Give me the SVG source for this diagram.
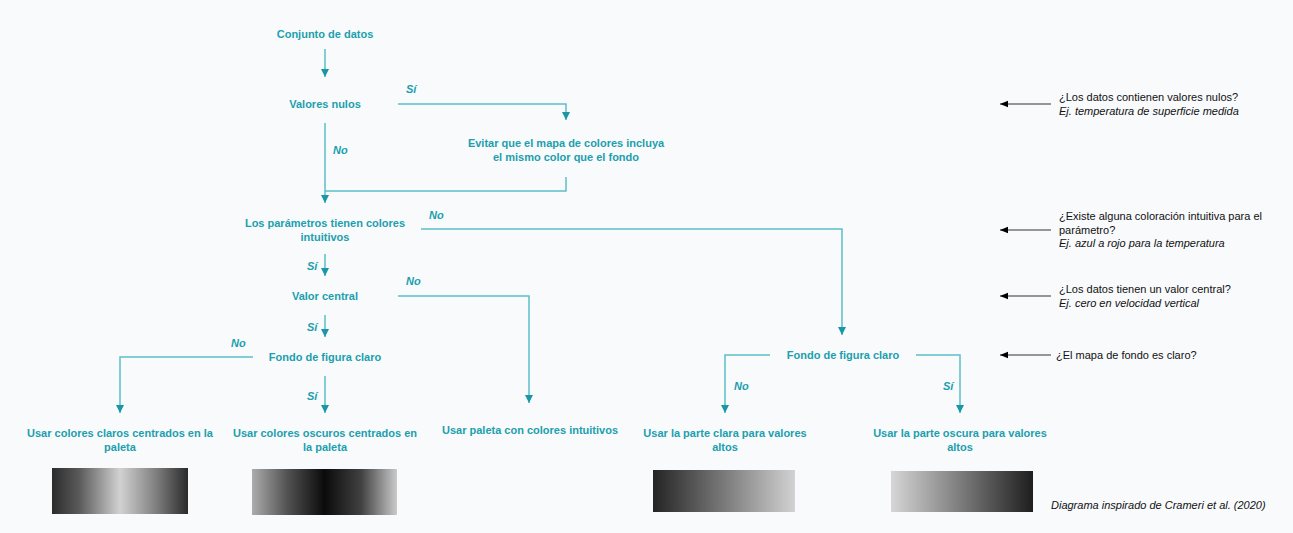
<svg xmlns="http://www.w3.org/2000/svg" width="1293" height="533" viewBox="0 0 1293 533">
<style>
.n{font-family:"Liberation Sans",Arial,sans-serif;font-size:11px;font-weight:bold;fill:#1c9fae;text-anchor:middle}
.l{font-family:"Liberation Sans",Arial,sans-serif;font-size:11px;font-weight:bold;font-style:italic;fill:#1c9fae}
.a{font-family:"Liberation Sans",Arial,sans-serif;font-size:11px;fill:#111}
.ai{font-family:"Liberation Sans",Arial,sans-serif;font-size:11px;font-style:italic;fill:#111}
.c{fill:none;stroke:#5cbfc9;stroke-width:1.5}
.k{fill:none;stroke:#333;stroke-width:1.2}
</style>
<defs>
<marker id="ah" viewBox="0 0 10 10" refX="10" refY="5" markerWidth="8" markerHeight="8" markerUnits="userSpaceOnUse" orient="auto"><path d="M0,0 L10,5 L0,10 z" fill="#1a97a5"/></marker>
<marker id="bh" viewBox="0 0 10 10" refX="10" refY="5" markerWidth="8" markerHeight="8" markerUnits="userSpaceOnUse" orient="auto"><path d="M0,1 L10,5 L0,9 z" fill="#000"/></marker>
<linearGradient id="g1"><stop offset="0" stop-color="#2c2c2c"/><stop offset="0.2" stop-color="#5a5a5a"/><stop offset="0.5" stop-color="#d2d2d2"/><stop offset="0.78" stop-color="#7a7a7a"/><stop offset="1" stop-color="#2a2a2a"/></linearGradient>
<linearGradient id="g2"><stop offset="0" stop-color="#acacac"/><stop offset="0.25" stop-color="#505050"/><stop offset="0.5" stop-color="#0b0b0b"/><stop offset="0.75" stop-color="#404040"/><stop offset="1" stop-color="#cacaca"/></linearGradient>
<linearGradient id="g3"><stop offset="0" stop-color="#242424"/><stop offset="0.5" stop-color="#7a7a7a"/><stop offset="1" stop-color="#d2d2d2"/></linearGradient>
<linearGradient id="g4"><stop offset="0" stop-color="#d6d6d6"/><stop offset="0.5" stop-color="#7a7a7a"/><stop offset="1" stop-color="#1e1e1e"/></linearGradient>
</defs>
<rect width="1293" height="533" fill="#f8fafc"/>

<g id="connectors">
<path class="c" d="M325,49 V77" marker-end="url(#ah)"/>
<path class="c" d="M398,104 H566 V120" marker-end="url(#ah)"/>
<path class="c" d="M566,177 V191 H325"/>
<path class="c" d="M325,123 V203" marker-end="url(#ah)"/>
<path class="c" d="M421,229 H842 V335" marker-end="url(#ah)"/>
<path class="c" d="M325,254 V276" marker-end="url(#ah)"/>
<path class="c" d="M398,296 H529 V403" marker-end="url(#ah)"/>
<path class="c" d="M325,315 V337" marker-end="url(#ah)"/>
<path class="c" d="M253,357 H120 V413" marker-end="url(#ah)"/>
<path class="c" d="M325,376 V413" marker-end="url(#ah)"/>
<path class="c" d="M770,355 H725 V413" marker-end="url(#ah)"/>
<path class="c" d="M916,355 H960 V413" marker-end="url(#ah)"/>
<text class="l" x="406" y="93">Sí</text>
<text class="l" x="333" y="154">No</text>
<text class="l" x="429" y="219">No</text>
<text class="l" x="307" y="270">Sí</text>
<text class="l" x="406" y="285">No</text>
<text class="l" x="307" y="331">Sí</text>
<text class="l" x="231" y="347">No</text>
<text class="l" x="307" y="400">Sí</text>
<text class="l" x="734" y="390">No</text>
<text class="l" x="943" y="390">Sí</text>
<path class="k" d="M1051,104 H1000" marker-end="url(#bh)"/>
<path class="k" d="M1051,230 H1000" marker-end="url(#bh)"/>
<path class="k" d="M1051,296 H1000" marker-end="url(#bh)"/>
<path class="k" d="M1051,355 H1000" marker-end="url(#bh)"/>
</g>

<g id="n-datos"><text class="n" x="325" y="38">Conjunto de datos</text></g>
<g id="n-nulos"><text class="n" x="325" y="108">Valores nulos</text></g>
<g id="n-evitar"><text class="n" x="566" y="147">Evitar que el mapa de colores incluya</text><text class="n" x="566" y="161">el mismo color que el fondo</text></g>
<g id="n-param"><text class="n" x="325" y="227">Los parámetros tienen colores</text><text class="n" x="325" y="241">intuitivos</text></g>
<g id="n-central"><text class="n" x="325" y="300">Valor central</text></g>
<g id="n-fondo1"><text class="n" x="325" y="361">Fondo de figura claro</text></g>
<g id="n-fondo2"><text class="n" x="843" y="359">Fondo de figura claro</text></g>
<g id="n-claros"><text class="n" x="120" y="437">Usar colores claros centrados en la</text><text class="n" x="120" y="451">paleta</text><rect x="52" y="468" width="136" height="46" fill="url(#g1)"/></g>
<g id="n-oscuros"><text class="n" x="325" y="437">Usar colores oscuros centrados en</text><text class="n" x="325" y="451">la paleta</text><rect x="252" y="469" width="145" height="46" fill="url(#g2)"/></g>
<g id="n-intuitivos"><text class="n" x="530" y="434">Usar paleta con colores intuitivos</text></g>
<g id="n-clara"><text class="n" x="725" y="437">Usar la parte clara para valores</text><text class="n" x="725" y="451">altos</text><rect x="653" y="470" width="142" height="42" fill="url(#g3)"/></g>
<g id="n-oscura"><text class="n" x="960" y="437">Usar la parte oscura para valores</text><text class="n" x="960" y="451">altos</text><rect x="891" y="471" width="142" height="41" fill="url(#g4)"/></g>

<g id="annotations">
<text class="a" x="1059" y="101">¿Los datos contienen valores nulos?</text>
<text class="ai" x="1059" y="115">Ej. temperatura de superficie medida</text>
<text class="a" x="1059" y="220">¿Existe alguna coloración intuitiva para el</text>
<text class="a" x="1059" y="234">parámetro?</text>
<text class="ai" x="1059" y="247">Ej. azul a rojo para la temperatura</text>
<text class="a" x="1059" y="293">¿Los datos tienen un valor central?</text>
<text class="ai" x="1059" y="307">Ej. cero en velocidad vertical</text>
<text class="a" x="1056" y="359">¿El mapa de fondo es claro?</text>
<text class="ai" x="1051" y="509">Diagrama inspirado de Crameri et al. (2020)</text>
</g>
</svg>
